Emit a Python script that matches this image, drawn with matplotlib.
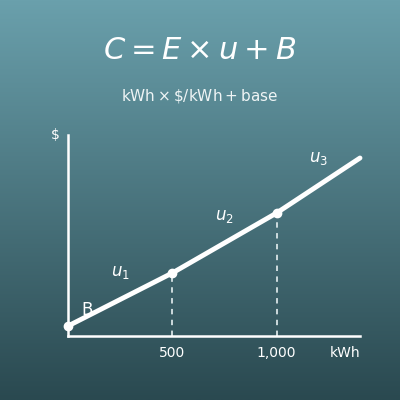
import numpy as np
import matplotlib
matplotlib.use("Agg")
import matplotlib.pyplot as plt
from matplotlib.colors import LinearSegmentedColormap

# usage (kWh) and cost ($) at the breakpoints
kwh = [0, 500, 1000, 1400]
cost = [10, 63, 123, 178]
tick_vals = [500, 1000]
tick_labels = ["500", "1,000"]
seg_labels = ["$u_1$", "$u_2$", "$u_3$"]

fig = plt.figure(figsize=(4, 4), dpi=100)

# gradient background
bg = fig.add_axes([0, 0, 1, 1])
cmap = LinearSegmentedColormap.from_list("bg", ["#6aa0ac", "#2a4950"])
bg.imshow(np.linspace(0, 1, 256).reshape(-1, 1), aspect="auto", cmap=cmap,
          extent=[0, 1, 0, 1], origin="upper")
bg.set_axis_off()

fig.text(0.5, 0.873, r"$C = E \times u + B$", color="white", fontsize=22,
         ha="center", va="center")
fig.text(0.5, 0.76, r"$\mathrm{kWh} \times \$/\mathrm{kWh} + \mathrm{base}$", color="#eef4f5",
         fontsize=11, ha="center", va="center")

ax = fig.add_axes([0.17, 0.16, 0.73, 0.5025])
ax.patch.set_alpha(0)
ax.set_xlim(0, 1400)
ax.set_ylim(0, 201)
for s in ["top", "right"]:
    ax.spines[s].set_visible(False)
for s in ["left", "bottom"]:
    ax.spines[s].set_color("white")
    ax.spines[s].set_linewidth(1.8)
ax.set_xticks(tick_vals)
ax.set_xticklabels(tick_labels, color="white", fontsize=10)
ax.tick_params(axis="x", length=0, pad=7)
ax.set_yticks([])

ax.plot(kwh, cost, color="white", lw=3.5, solid_capstyle="round", zorder=3, clip_on=False)
ax.plot(kwh[:3], cost[:3], "o", color="white", ms=6, zorder=4, clip_on=False)
for x, y in zip(kwh[1:3], cost[1:3]):
    ax.plot([x, x], [0, y], color="#d8e4e6", lw=1.3, ls=(0, (3, 3)), zorder=2)

# segment labels
ax.text(250, 64, seg_labels[0], color="white", fontsize=12, ha="center", va="center")
ax.text(750, 120, seg_labels[1], color="white", fontsize=12, ha="center", va="center")
ax.text(1200, 178, seg_labels[2], color="white", fontsize=12, ha="center", va="center")
ax.text(90, 26, "B", color="white", fontsize=12, ha="center", va="center")

fig.text(55 / 400, 1 - 135 / 400, "$", color="white", fontsize=10, ha="center", va="center")
fig.text(345 / 400, 1 - 353 / 400, "kWh", color="white", fontsize=10, ha="center", va="center")

fig.savefig("out.png", dpi=100)
